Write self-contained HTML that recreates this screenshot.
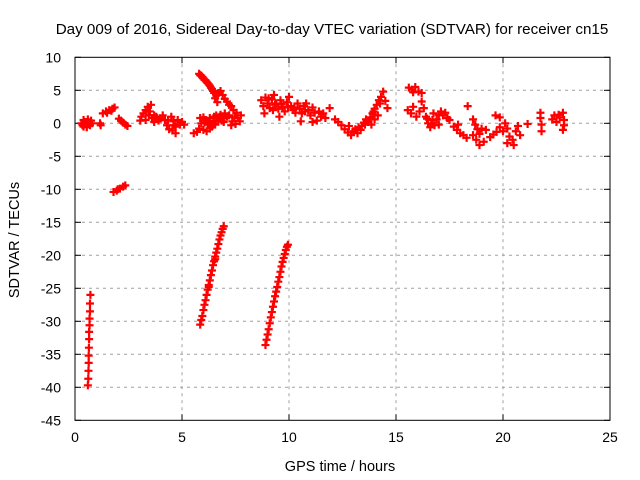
<!DOCTYPE html>
<html><head><meta charset="utf-8"><style>
body{margin:0;background:#fff;}
svg{display:block;font-family:"Liberation Sans",sans-serif;}
</style></head><body>
<svg id="chart" width="640" height="480">
<text x="332" y="34" text-anchor="middle" font-size="15.2">Day 009 of 2016, Sidereal Day-to-day VTEC variation (SDTVAR) for receiver cn15</text>
<text x="340" y="471" text-anchor="middle" font-size="14.5">GPS time / hours</text>
<text transform="translate(19,240) rotate(-90)" text-anchor="middle" font-size="14.5">SDTVAR / TECUs</text>
<g id="grid"></g>
<g id="axes"></g>
<g id="marks"></g>
</svg>
<script>
const xTicks=[0,5,10,15,20,25];
const yTicks=[10,5,0,-5,-10,-15,-20,-25,-30,-35,-40,-45];
const gpsHours=[0.3,0.4,0.4,0.5,0.55,0.6,0.65,0.7,0.75,0.8,0.45,0.35,
1.17,1.2,
1.3,1.45,1.6,1.75,1.85,1.5,1.7,
2.05,2.15,2.25,2.35,2.45,
3.1,3.2,3.3,3.4,3.5,3.45,3.6,3.7,3.3,3.8,3.9,4.0,3.55,3.05,3.7,
4.1,4.2,4.3,4.35,4.5,4.6,4.7,4.8,4.9,5.0,5.1,4.55,4.7,4.4,4.65,
1.8,1.95,2.1,2.25,2.35,2.0,
5.55,5.7,5.8,5.9,5.85,6.0,6.1,6.2,6.3,6.4,6.5,6.6,6.7,6.8,6.9,7.0,7.1,6.0,6.3,6.15,6.55,6.75,7.2,7.35,7.45,7.55,7.6,7.7,7.5,7.3,7.75,7.4,
6.05,6.25,6.45,6.65,6.85,6.35,6.95,6.5,
5.8,5.9,6.0,6.1,6.2,6.3,6.4,6.5,6.55,6.6,6.7,6.8,6.9,7.0,7.1,7.2,7.3,6.65,
5.85,5.95,6.05,6.15,6.25,6.35,6.45,
8.7,8.8,8.9,9.0,9.1,9.2,9.3,9.4,9.5,9.55,9.6,9.7,9.8,9.9,10.0,10.1,10.2,10.3,10.4,10.5,10.6,10.7,10.8,10.9,11.0,11.1,11.2,11.3,11.4,11.5,11.6,11.7,8.85,9.25,10.55,11.1,
9.05,9.35,9.65,9.95,10.25,10.75,
11.9,
12.15,12.3,12.45,12.6,12.75,12.9,13.0,13.1,13.25,13.4,13.55,13.7,13.6,13.8,13.9,14.0,14.1,14.2,14.3,14.4,14.5,14.6,13.85,13.2,14.0,12.8,14.15,
13.35,13.5,13.95,14.25,
15.6,15.75,15.9,16.05,16.2,15.8,
15.55,15.7,15.8,15.95,16.1,16.2,16.3,16.4,16.5,16.6,16.7,16.8,16.9,17.0,17.1,17.2,17.3,17.4,17.5,17.0,16.75,
16.45,16.65,
18.35,
17.7,17.85,18.0,18.15,18.3,17.9,
18.6,18.7,18.8,18.9,19.0,18.75,18.9,19.1,19.2,18.6,
19.65,19.85,
19.4,19.55,19.7,19.85,20.0,20.1,20.2,20.3,20.45,20.6,20.7,20.5,20.2,20.8,
21.15,
21.75,21.75,21.8,21.8,
22.3,22.4,22.5,22.65,22.8,22.85,22.85,22.8,22.6,
5.85,5.95,6.05,6.15,6.25,6.35,6.45,6.55,6.65,6.75,6.85,6.95,6.0,6.2,6.4,6.6,6.8,
5.9,6.1,6.3,6.5,6.7,6.9,6.25,6.55,
8.9,9.0,9.1,9.2,9.3,9.4,9.5,9.6,9.7,9.8,9.9,9.05,9.25,9.45,9.65,9.85,
8.95,9.15,9.35,9.55,9.75,9.95,
0.72,0.7,0.7,0.68,0.68,0.66,0.66,0.65,0.64,0.64,0.63,0.62,0.6];
const sdtvar=[0,0.5,-0.5,0.2,-0.6,0.6,0,-0.3,0.4,0,0,-0.3,
0,-0.3,
1.5,1.8,2.0,2.2,2.4,1.6,1.9,
0.7,0.4,0.1,-0.2,-0.4,
1.0,1.5,2.0,2.5,1.8,1.2,0.8,1.2,0.5,1.0,0.4,0.7,2.8,0.4,0.2,
1.2,0.5,-0.3,0.5,1.0,0.3,-0.5,0.5,-0.2,0.2,-0.2,-1.1,-1.5,-0.9,-0.3,
-10.4,-10.2,-9.9,-9.6,-9.4,-10.0,
-1.5,-1.3,-0.8,0,0.8,-1.0,0.5,-0.2,0.8,-0.5,0.4,1.2,0.3,1.3,0.8,1.5,1.0,0.9,-0.8,-1.2,-0.2,1.0,1.2,0.3,0.9,1.6,0.8,0.3,-0.1,-0.3,1.2,2.0,
0.1,0.3,0.0,0.8,0.4,-0.2,0.2,1.0,
7.5,7.2,6.8,6.5,6.1,5.7,5.2,4.6,3.8,4.2,4.6,4.9,4.3,3.7,3.3,2.8,2.6,3.2,
7.3,7.0,6.6,6.3,5.9,5.4,4.9,
3.5,2.6,3.9,3.0,2.3,3.6,4.3,3.0,2.2,1.0,3.5,2.5,1.8,3.2,4.0,2.6,2.0,1.6,3.0,2.2,1.5,2.6,3.0,2.0,1.2,2.4,1.6,0.4,1.8,1.0,1.5,0.8,1.5,2.0,0.3,0.2,
3.8,2.8,2.9,2.4,2.4,1.8,
2.3,
0.6,0.2,-0.3,-0.9,-1.4,-1.8,-1.2,-0.9,-0.6,-0.4,-0.2,0.2,0.6,0.9,1.5,2.2,2.8,3.5,4.0,4.8,3.4,2.3,-0.2,-1.5,0.6,-0.4,1.2,
-1.0,0.1,1.8,3.0,
5.4,5.1,5.5,4.8,4.6,4.7,
2.0,1.5,2.5,1.0,1.8,3.3,2.3,1.0,0,-0.6,0.5,-0.3,0.6,1.3,1.8,1.2,1.6,0.8,0.5,-0.2,1.5,
0.7,-0.1,
2.6,
-0.5,-1.0,-1.5,-1.8,-2.2,-0.2,
0.6,-0.2,-0.9,-1.6,-0.8,-2.5,-3.3,-2.8,-1.0,-1.8,
1.2,0.9,
-2.1,-1.7,-1.3,-0.6,-1.2,0.0,-0.8,-2.0,-2.5,-1.2,-0.4,-3.3,-3.0,-1.8,
-0.1,
1.6,0.8,-0.2,-1.2,
0.6,1.2,0.2,0.9,1.6,0.5,-0.3,-1.0,1.3,
-30.5,-29.2,-27.5,-26.0,-24.5,-23.0,-21.5,-20.2,-19.0,-17.6,-16.5,-15.6,-28.3,-25.2,-22.3,-19.6,-17.0,
-29.8,-26.8,-23.8,-20.9,-18.3,-16.0,-24.8,-20.6,
-33.6,-32.0,-30.3,-28.6,-27.0,-25.5,-24.0,-22.5,-21.0,-19.8,-18.7,-31.2,-27.8,-24.8,-21.7,-19.2,
-32.8,-29.4,-26.2,-23.3,-20.4,-18.4,
-26,-27.3,-28.5,-29.6,-30.6,-31.6,-32.7,-34,-35.2,-36.3,-37.5,-38.7,-39.7];

const L=75,R=610,T=57.3,B=420.3;
const sx=v=>L+(v-0)/25*(R-L);
const sy=v=>T+(10-v)/55*(B-T);
const NS="http://www.w3.org/2000/svg";
function mk(tag,parent){const e=document.createElementNS(NS,tag);parent.appendChild(e);return e;}
const grid=document.getElementById('grid'),axes=document.getElementById('axes'),marks=document.getElementById('marks');
xTicks.forEach(t=>{
  const x=sx(t);
  if(t>0&&t<25){const g=mk('line',grid);g.setAttribute('x1',x);g.setAttribute('x2',x);g.setAttribute('y1',T);g.setAttribute('y2',B);g.setAttribute('stroke','#a0a0a0');g.setAttribute('stroke-dasharray','3,4');
  
  }
  [[B,B-6],[T,T+6]].forEach(p=>{const k=mk('line',axes);k.setAttribute('x1',x);k.setAttribute('x2',x);k.setAttribute('y1',p[0]);k.setAttribute('y2',p[1]);k.setAttribute('stroke','#000');
  
  });
  const tx=mk('text',axes);tx.setAttribute('x',x);tx.setAttribute('y',442);tx.setAttribute('text-anchor','middle');tx.setAttribute('font-size','14');tx.textContent=t;
  
  
});
yTicks.forEach(t=>{
  const y=sy(t);
  if(t<10&&t>-45){const g=mk('line',grid);g.setAttribute('x1',L);g.setAttribute('x2',R);g.setAttribute('y1',y);g.setAttribute('y2',y);g.setAttribute('stroke','#a0a0a0');g.setAttribute('stroke-dasharray','3,4');
  
  }
  [[L,L+6],[R,R-6]].forEach(p=>{const k=mk('line',axes);k.setAttribute('x1',p[0]);k.setAttribute('x2',p[1]);k.setAttribute('y1',y);k.setAttribute('y2',y);k.setAttribute('stroke','#000');
  
  });
  const tx=mk('text',axes);tx.setAttribute('x',61);tx.setAttribute('y',y+5);tx.setAttribute('text-anchor','end');tx.setAttribute('font-size','14');tx.textContent=t;
  
  
});
const box=mk('rect',axes);box.setAttribute('x',L);box.setAttribute('y',T);box.setAttribute('width',R-L);box.setAttribute('height',B-T);box.setAttribute('fill','none');box.setAttribute('stroke','#000');


gpsHours.forEach((h,i)=>{
  const x=sx(h),y=sy(sdtvar[i]);
  const p=mk('path',marks);
  p.setAttribute('d',`M${x-4},${y}H${x+4}M${x},${y-4}V${y+4}`);
  p.setAttribute('stroke','#ff0000');p.setAttribute('stroke-width','2.2');
  
  
});
</script>
</body></html>
